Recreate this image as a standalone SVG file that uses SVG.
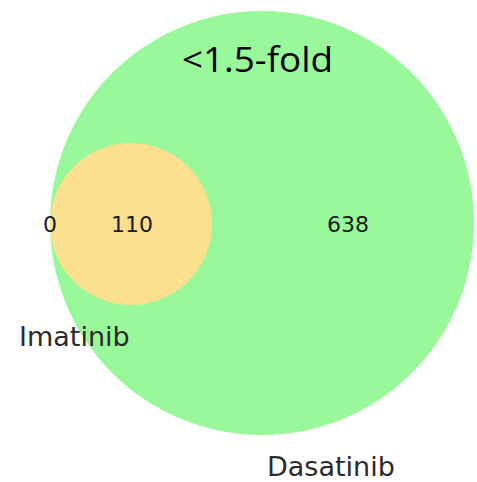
<svg xmlns="http://www.w3.org/2000/svg" width="477" height="482" viewBox="0 0 477 482">
<style>
.num{font-family:"DejaVu Sans",sans-serif;font-size:22px;fill:#1a1a1a;text-anchor:middle}
.lbl{font-family:"DejaVu Sans",sans-serif;font-size:27px;fill:#2a2a2a}
.title{font-family:"Open Sans","Liberation Sans",sans-serif;font-size:35px;fill:#000}
</style>
<rect width="477" height="482" fill="#ffffff"/>
<g id="dasatinib">
<circle cx="262" cy="223" r="212" fill="#99f899"/>
</g>
<g id="imatinib">
<circle cx="131" cy="224" r="81" fill="#fde08f"/>
</g>
<g id="connectors"></g>
<g id="labels">
<text class="title" x="182" y="72" textLength="151" lengthAdjust="spacingAndGlyphs">&lt;1.5-fold</text>
<text class="num" x="50" y="232">0</text>
<text class="num" x="132" y="232">110</text>
<text class="num" x="348" y="232">638</text>
<text class="lbl" x="19" y="346">Imatinib</text>
<text class="lbl" x="267" y="476">Dasatinib</text>
</g>
</svg>
